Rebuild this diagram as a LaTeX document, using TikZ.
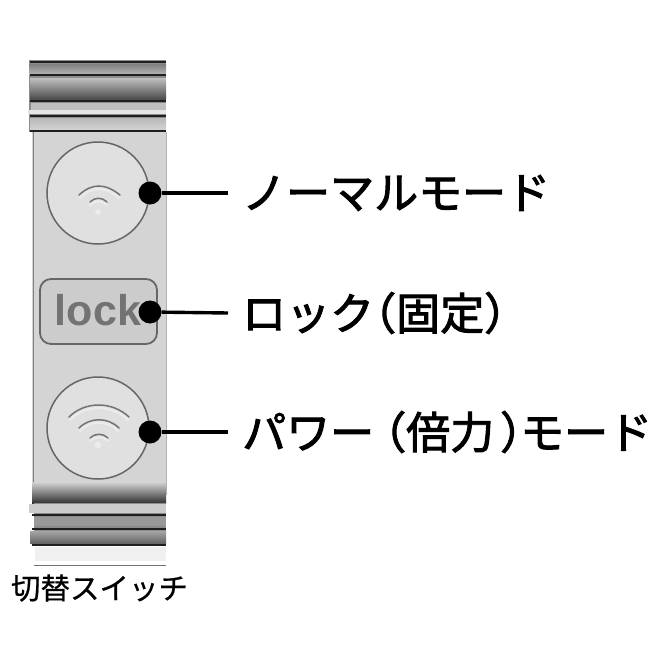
\documentclass[tikz,border=0pt]{standalone}
\usepackage{fontspec}
\newfontfamily\labelfont[FakeBold=2.2]{Noto Sans CJK JP}
\newfontfamily\capfont[FakeBold=0.6]{Noto Sans CJK JP}
\setsansfont{Liberation Sans}
\usetikzlibrary{positioning}
\tikzset{
	bigdot/.style={circle, fill=black, minimum size=23pt, inner sep=0pt},
	modelabel/.style={anchor=west, inner xsep=14pt, inner ysep=0pt, font=\fontsize{44}{48}\labelfont},
	leader/.style={line width=3.4pt, color=black},
	groove/.style={color=black!88, line width=2.6pt},
	keyring/.style={draw=black!60, line width=1.5pt, fill=black!12},
	wave/.style={color=white!92!black, line width=2.2pt, line cap=round},
	waveshade/.style={color=black!55, line width=1.5pt, line cap=round}
}
\begin{document}
\begin{tikzpicture}[x=1pt, y=-1pt]
	%%%%% BODY %%%%%
	\useasboundingbox (0, 0) rectangle (656, 656);
	\fill[color=black!17] (32, 130) rectangle (166, 500);
	\draw[color=black!50, line width=1pt] (33, 132) -- (33, 495);
	\draw[color=black!30, line width=1pt] (166, 132) -- (166, 495);

	%%%%% TOP STRIPES %%%%%
	\fill[color=black!45] (29, 60) rectangle (166, 132);
	\fill[top color=black!50, bottom color=black!30] (29, 64) rectangle (166, 74);
	\fill[top color=black!25, bottom color=black!70] (30, 78) rectangle (166, 99);
	\fill[color=black!25] (31, 103) rectangle (166, 110);
	\fill[color=black!10] (28, 110) rectangle (166, 114);
	\fill[top color=black!28, bottom color=black!18] (30, 118) rectangle (166, 129);
	\foreach \ypos in {62, 75, 101, 116, 131} {
		\draw[groove] (30, \ypos) -- (166, \ypos);
	}

	%%%%% BOTTOM STRIPES %%%%%
	\fill[top color=black!17, bottom color=black!80] (32, 482) rectangle (166, 503);
	\fill[color=black!45] (34, 503) rectangle (166, 546);
	\fill[color=black!20] (29, 504) rectangle (166, 513);
	\fill[color=black!40] (34, 517) rectangle (166, 526);
	\fill[top color=black!35, bottom color=black!60] (30, 531) rectangle (166, 543);
	\fill[color=black!6] (35, 547) rectangle (166, 561);
	\draw[color=black!55, line width=1pt] (34, 565) -- (166, 565);
	\foreach \ypos in {515, 529, 545} {
		\draw[groove] (32, \ypos) -- (166, \ypos);
	}

	%%%%% KEYS %%%%%
	\draw[keyring] (98, 193) circle (51);
	\draw[keyring] (98, 428) circle (51);
	\draw[draw=black!60, line width=1.8pt, fill=black!20, rounded corners=11pt] (40, 279) rectangle (157, 344);
	\node[color=black!55, font=\fontsize{43}{46}\sffamily\bfseries] (locktext) at (98, 310) {lock};

	%%%%% WAVES %%%%%
	\draw[waveshade] (79, 195) .. controls (92, 183) and (105, 183) .. (120, 195);
	\draw[wave] (80, 198) .. controls (92, 186) and (105, 186) .. (119, 198);
	\draw[waveshade] (90, 202) .. controls (95, 197) and (102, 197) .. (107, 202);
	\draw[wave] (90, 205) .. controls (95, 200) and (102, 200) .. (107, 205);
	\fill[color=white!92!black] (98, 212) circle (3);
	\draw[waveshade] (69, 417) .. controls (85, 401) and (112, 401) .. (129, 417);
	\draw[wave] (70, 420) .. controls (85, 404) and (112, 404) .. (128, 420);
	\draw[waveshade] (79, 428) .. controls (90, 417) and (108, 417) .. (119, 428);
	\draw[wave] (80, 431) .. controls (90, 420) and (108, 420) .. (118, 431);
	\draw[waveshade] (90, 438) .. controls (95, 433) and (103, 433) .. (108, 438);
	\draw[wave] (90, 441) .. controls (95, 436) and (103, 436) .. (108, 441);
	\fill[color=white!92!black] (98, 445) circle (3.5);

	%%%%% LABELS %%%%%
	\node[bigdot] (normaldot) at (150, 193) {};
	\node[bigdot] (lockdot) at (150, 312) {};
	\node[bigdot] (powerdot) at (150, 432) {};

	\node[modelabel] (normallabel) at (228, 193) {ノーマルモード};
	\node[modelabel] (locklabel) at (228, 313) {ロック\hspace{-22pt}（固定）};
	\node[modelabel] (powerlabel) at (228, 432) {パワー\hspace{-12pt}（倍力\hspace{6pt}）\hspace{-24pt}モード};

	\draw[leader] (normaldot) -- (normallabel.west);
	\draw[leader] (lockdot) -- (locklabel.west);
	\draw[leader] (powerdot) -- (powerlabel.west);

	\node[font=\fontsize{29.5}{32}\capfont] (switchlabel) at (99.5, 588) {切替スイッチ};
\end{tikzpicture}
\end{document}
